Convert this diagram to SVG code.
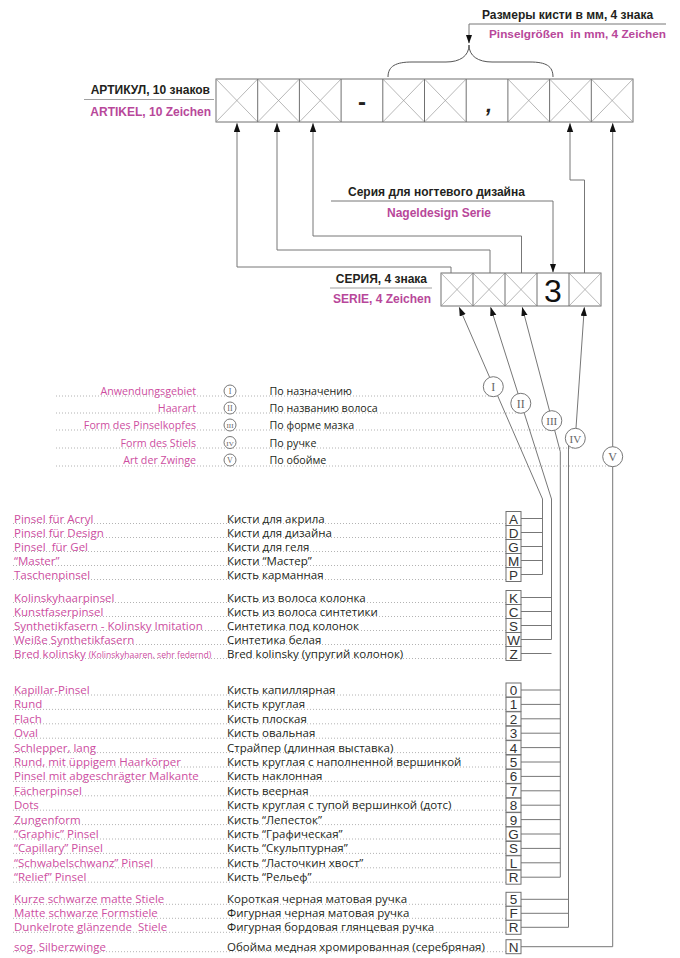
<svg xmlns="http://www.w3.org/2000/svg" width="680" height="958" viewBox="0 0 680 958">
<defs>
<style>
text{white-space:pre}
.hd{font-family:"Liberation Sans",Arial,sans-serif;font-weight:bold;font-size:12px;fill:#231f20}
.hm{font-family:"Liberation Sans",Arial,sans-serif;font-weight:bold;font-size:12px;fill:#b8479a}
.de{font-family:"Open Sans",Roboto,"Liberation Sans",sans-serif;font-size:11.5px;fill:#cd4e9f}
.ru{font-family:"Open Sans",Roboto,"Liberation Sans",sans-serif;font-size:11.5px;fill:#231f20}
.lg{font-size:10.7px}
.sm{font-size:8.6px}
.rn{font-family:"Liberation Serif","Times New Roman",serif;fill:#666;text-anchor:middle}
.dot{stroke:#a0a0a0;stroke-width:0.8;stroke-dasharray:1 2;fill:none}
.cn{stroke:#777;stroke-width:1;fill:none}
.box{fill:#fff;stroke:#707070;stroke-width:1}
.x{stroke:#9a9a9a;stroke-width:0.7;fill:none}
.bl{font-family:"Liberation Sans",Arial,sans-serif;font-size:13.5px;fill:#333;text-anchor:middle}
.circ{fill:#fff;stroke:#777;stroke-width:1}
.sep{stroke:#888;stroke-width:0.8}
</style>
<marker id="ah" markerUnits="userSpaceOnUse" markerWidth="9" markerHeight="7" refX="8.5" refY="3.2" orient="auto" viewBox="0 0 9 7">
<path d="M0,0 L9,3.2 L0,6.4 Z" fill="#111"/>
</marker>
</defs>

<!-- top labels -->
<g id="label-size">
<text class="hd" x="482" y="18.5">Размеры кисти в мм, 4 знака</text>
<text class="hm" x="489" y="38" style="font-size:11.8px">Pinselgrößen  in mm, 4 Zeichen</text>
<path d="M388,77 C388,66 396,62 412,62 L446,62 C460,62 469,56 469,45 C469,56 478,62 492,62 L530,62 C546,62 553,66 553,77" fill="none" stroke="#555" stroke-width="1"/>
</g>

<g id="label-article">
<text class="hd" x="210" y="94" text-anchor="end">АРТИКУЛ, 10 знаков</text>
<line class="sep" x1="84" y1="99.5" x2="214" y2="99.5"/>
<text class="hm" x="211" y="116" text-anchor="end">ARTIKEL, 10 Zeichen</text>
</g>

<g id="article-box">
<rect class="box" x="216" y="79" width="417" height="43"/>
<path class="x" d="M216,79L257.7,122M257.7,79L216,122 M257.7,79L299.4,122M299.4,79L257.7,122 M299.4,79L341.1,122M341.1,79L299.4,122 M382.8,79L424.5,122M424.5,79L382.8,122 M424.5,79L466.2,122M466.2,79L424.5,122 M507.9,79L549.6,122M549.6,79L507.9,122 M549.6,79L591.3,122M591.3,79L549.6,122 M591.3,79L633,122M633,79L591.3,122"/>
<path d="M257.7,79V122M299.4,79V122M341.1,79V122M382.8,79V122M424.5,79V122M466.2,79V122M507.9,79V122M549.6,79V122M591.3,79V122" stroke="#707070" stroke-width="1"/>
<text class="hd" x="362" y="110" text-anchor="middle" style="font-size:24px">-</text>
<text class="hd" x="489" y="112" text-anchor="middle" style="font-size:22px;font-style:italic">,</text>
</g>

<g id="label-nail">
<text class="hd" x="348" y="196">Серия для ногтевого дизайна</text>
<text class="hm" x="387" y="217">Nageldesign Serie</text>
</g>

<g id="label-series">
<text class="hd" x="427" y="282.5" text-anchor="end">СЕРИЯ, 4 знака</text>
<line class="sep" x1="330" y1="288" x2="432" y2="288"/>
<text class="hm" x="431" y="302.5" text-anchor="end">SERIE, 4 Zeichen</text>
</g>

<g id="series-box">
<rect class="box" x="441" y="273" width="160" height="33"/>
<path class="x" d="M441,273L473,306M473,273L441,306 M473,273L505,306M505,273L473,306 M505,273L537,306M537,273L505,306 M569,273L601,306M601,273L569,306"/>
<path d="M473,273V306M505,273V306M537,273V306M569,273V306" stroke="#707070" stroke-width="1"/>
<text x="553" y="301.5" text-anchor="middle" style="font-family:'Liberation Sans',Arial,sans-serif;font-size:32px;fill:#111">3</text>
</g>

<!-- connectors -->
<g id="connectors">
<path class="cn" d="M666,24 H469 V43" marker-end="url(#ah)"/>
<path class="cn" d="M451,273 V267 H237 V123.5" marker-end="url(#ah)"/>
<path class="cn" d="M490,273 V250 H277 V123.5" marker-end="url(#ah)"/>
<path class="cn" d="M521.5,273 V236 H313 V123.5" marker-end="url(#ah)"/>
<path class="cn" d="M584.5,273 V180 H570 V123.5" marker-end="url(#ah)"/>
<path class="cn" d="M331,201 H553 V272" marker-end="url(#ah)"/>
<path class="cn" d="M521,946.7 H612.7 V123.5" marker-end="url(#ah)"/>
<path class="cn" d="M542.5,574.5 V499 L459.3,307.5" marker-end="url(#ah)"/>
<path class="cn" d="M551.5,639.5 V499 L490.7,307.5" marker-end="url(#ah)"/>
<path class="cn" d="M560.3,877.2 V451.7 L522.3,307.5" marker-end="url(#ah)"/>
<path class="cn" d="M568.5,927.3 V445 L575.3,438.3 L584.3,307.5" marker-end="url(#ah)"/>
<path class="cn" d="M521,518.5H542.5M521,532.5H542.5M521,546.5H542.5M521,560.5H542.5M521,574.5H542.5"/>
<path class="cn" d="M521,597.5H551.5M521,611.5H551.5M521,625.5H551.5M521,639.5H551.5M521,653.5H551.5"/>
<path class="cn" d="M521,690H560.3M521,704.4H560.3M521,718.8H560.3M521,733.2H560.3M521,747.6H560.3M521,762H560.3M521,776.4H560.3M521,790.8H560.3M521,805.2H560.3M521,819.6H560.3M521,834H560.3M521,848.4H560.3M521,862.8H560.3M521,877.2H560.3"/>
<path class="cn" d="M521,899.3H568.5M521,913.3H568.5M521,927.3H568.5"/>
</g>

<!-- legend -->
<g id="legend-1">
<path class="dot" d="M56,396H493"/>
<text class="de lg" x="196" y="395" text-anchor="end">Anwendungsgebiet</text>
<circle class="circ" cx="230" cy="391" r="6"/><text class="rn" x="230" y="394" style="font-size:8px">I</text>
<text class="ru lg" x="269.5" y="395">По назначению</text>
</g>
<g id="legend-2">
<path class="dot" d="M56,413H520"/>
<text class="de lg" x="196" y="412" text-anchor="end">Haarart</text>
<circle class="circ" cx="230" cy="408" r="6"/><text class="rn" x="230" y="411" style="font-size:8px">II</text>
<text class="ru lg" x="269.5" y="412">По названию волоса</text>
</g>
<g id="legend-3">
<path class="dot" d="M56,430H551"/>
<text class="de lg" x="196" y="429" text-anchor="end">Form des Pinselkopfes</text>
<circle class="circ" cx="230" cy="425" r="6"/><text class="rn" x="230" y="428" style="font-size:7px">III</text>
<text class="ru lg" x="269.5" y="429">По форме мазка</text>
</g>
<g id="legend-4">
<path class="dot" d="M56,448H575"/>
<text class="de lg" x="196" y="446.5" text-anchor="end">Form des Stiels</text>
<circle class="circ" cx="230" cy="442.5" r="6"/><text class="rn" x="230" y="445.5" style="font-size:7px">IV</text>
<text class="ru lg" x="269.5" y="446.5">По ручке</text>
</g>
<g id="legend-5">
<path class="dot" d="M56,466H612"/>
<text class="de lg" x="196" y="464" text-anchor="end">Art der Zwinge</text>
<circle class="circ" cx="230" cy="460" r="6"/><text class="rn" x="230" y="463" style="font-size:8px">V</text>
<text class="ru lg" x="269.5" y="464">По обойме</text>
</g>

<!-- big roman circles -->
<g id="circle-I"><circle class="circ" cx="493.3" cy="386.7" r="10"/><text class="rn" x="493.3" y="391" style="font-size:12px">I</text></g>
<g id="circle-II"><circle class="circ" cx="520.8" cy="403.3" r="10"/><text class="rn" x="520.8" y="407.6" style="font-size:12px">II</text></g>
<g id="circle-III"><circle class="circ" cx="551.8" cy="420.7" r="10"/><text class="rn" x="551.8" y="425" style="font-size:11px">III</text></g>
<g id="circle-IV"><circle class="circ" cx="575.3" cy="438.3" r="10"/><text class="rn" x="575.3" y="442.6" style="font-size:11px">IV</text></g>
<g id="circle-V"><circle class="circ" cx="612.7" cy="456.7" r="10"/><text class="rn" x="612.7" y="461" style="font-size:12px">V</text></g>

<!-- list rows -->
<g id="row-A"><path class="dot" d="M13,523.5H506"/><text class="de" x="14" y="522.5">Pinsel für Acryl</text><text class="ru" x="227" y="522.5">Кисти для акрила</text><rect class="box" x="506" y="511.5" width="15" height="14"/><text class="bl" x="513.5" y="523.5">A</text></g>
<g id="row-D"><path class="dot" d="M13,537.5H506"/><text class="de" x="14" y="536.5">Pinsel für Design</text><text class="ru" x="227" y="536.5">Кисти для дизайна</text><rect class="box" x="506" y="525.5" width="15" height="14"/><text class="bl" x="513.5" y="537.5">D</text></g>
<g id="row-G1"><path class="dot" d="M13,551.5H506"/><text class="de" x="14" y="550.5">Pinsel  für Gel</text><text class="ru" x="227" y="550.5">Кисти для геля</text><rect class="box" x="506" y="539.5" width="15" height="14"/><text class="bl" x="513.5" y="551.5">G</text></g>
<g id="row-M"><path class="dot" d="M13,565.5H506"/><text class="de" x="14" y="564.5">“Master”</text><text class="ru" x="227" y="564.5">Кисти “Мастер”</text><rect class="box" x="506" y="553.5" width="15" height="14"/><text class="bl" x="513.5" y="565.5">M</text></g>
<g id="row-P"><path class="dot" d="M13,579.5H506"/><text class="de" x="14" y="578.5">Taschenpinsel</text><text class="ru" x="227" y="578.5">Кисть карманная</text><rect class="box" x="506" y="567.5" width="15" height="14"/><text class="bl" x="513.5" y="579.5">P</text></g>

<g id="row-K"><path class="dot" d="M13,602.5H506"/><text class="de" x="14" y="601.5">Kolinskyhaarpinsel</text><text class="ru" x="227" y="601.5">Кисть из волоса колонка</text><rect class="box" x="506" y="590.5" width="15" height="14"/><text class="bl" x="513.5" y="602.5">K</text></g>
<g id="row-C"><path class="dot" d="M13,616.5H506"/><text class="de" x="14" y="615.5">Kunstfaserpinsel</text><text class="ru" x="227" y="615.5">Кисть из волоса синтетики</text><rect class="box" x="506" y="604.5" width="15" height="14"/><text class="bl" x="513.5" y="616.5">C</text></g>
<g id="row-S1"><path class="dot" d="M13,630.5H506"/><text class="de" x="14" y="629.5">Synthetikfasern - Kolinsky Imitation</text><text class="ru" x="227" y="629.5">Синтетика под колонок</text><rect class="box" x="506" y="618.5" width="15" height="14"/><text class="bl" x="513.5" y="630.5">S</text></g>
<g id="row-W"><path class="dot" d="M13,644.5H506"/><text class="de" x="14" y="643.5">Weiße Synthetikfasern</text><text class="ru" x="227" y="643.5">Синтетика белая</text><rect class="box" x="506" y="632.5" width="15" height="14"/><text class="bl" x="513.5" y="644.5">W</text></g>
<g id="row-Z"><path class="dot" d="M13,658.5H506"/><text class="de" x="14" y="657.5">Bred kolinsky <tspan class="sm">(Kolinskyhaaren, sehr federnd)</tspan></text><text class="ru" x="227" y="657.5">Bred kolinsky (упругий колонок)</text><rect class="box" x="506" y="646.5" width="15" height="14"/><text class="bl" x="513.5" y="658.5">Z</text></g>

<g id="row-0"><path class="dot" d="M13,695H506"/><text class="de" x="14" y="694">Kapillar-Pinsel</text><text class="ru" x="227" y="694">Кисть капиллярная</text><rect class="box" x="506" y="683" width="15" height="14"/><text class="bl" x="513.5" y="695">0</text></g>
<g id="row-1"><path class="dot" d="M13,709.4H506"/><text class="de" x="14" y="708.4">Rund</text><text class="ru" x="227" y="708.4">Кисть круглая</text><rect class="box" x="506" y="697.4" width="15" height="14"/><text class="bl" x="513.5" y="709.4">1</text></g>
<g id="row-2"><path class="dot" d="M13,723.8H506"/><text class="de" x="14" y="722.8">Flach</text><text class="ru" x="227" y="722.8">Кисть плоская</text><rect class="box" x="506" y="711.8" width="15" height="14"/><text class="bl" x="513.5" y="723.8">2</text></g>
<g id="row-3"><path class="dot" d="M13,738.2H506"/><text class="de" x="14" y="737.2">Oval</text><text class="ru" x="227" y="737.2">Кисть овальная</text><rect class="box" x="506" y="726.2" width="15" height="14"/><text class="bl" x="513.5" y="738.2">3</text></g>
<g id="row-4"><path class="dot" d="M13,752.6H506"/><text class="de" x="14" y="751.6">Schlepper, lang</text><text class="ru" x="227" y="751.6">Страйпер (длинная выставка)</text><rect class="box" x="506" y="740.6" width="15" height="14"/><text class="bl" x="513.5" y="752.6">4</text></g>
<g id="row-5a"><path class="dot" d="M13,767H506"/><text class="de" x="14" y="766">Rund, mit üppigem Haarkörper</text><text class="ru" x="227" y="766">Кисть круглая с наполненной вершинкой</text><rect class="box" x="506" y="755" width="15" height="14"/><text class="bl" x="513.5" y="767">5</text></g>
<g id="row-6"><path class="dot" d="M13,781.4H506"/><text class="de" x="14" y="780.4">Pinsel mit abgeschrägter Malkante</text><text class="ru" x="227" y="780.4">Кисть наклонная</text><rect class="box" x="506" y="769.4" width="15" height="14"/><text class="bl" x="513.5" y="781.4">6</text></g>
<g id="row-7"><path class="dot" d="M13,795.8H506"/><text class="de" x="14" y="794.8">Fächerpinsel</text><text class="ru" x="227" y="794.8">Кисть веерная</text><rect class="box" x="506" y="783.8" width="15" height="14"/><text class="bl" x="513.5" y="795.8">7</text></g>
<g id="row-8"><path class="dot" d="M13,810.2H506"/><text class="de" x="14" y="809.2">Dots</text><text class="ru" x="227" y="809.2">Кисть круглая с тупой вершинкой (дотс)</text><rect class="box" x="506" y="798.2" width="15" height="14"/><text class="bl" x="513.5" y="810.2">8</text></g>
<g id="row-9"><path class="dot" d="M13,824.6H506"/><text class="de" x="14" y="823.6">Zungenform</text><text class="ru" x="227" y="823.6">Кисть “Лепесток”</text><rect class="box" x="506" y="812.6" width="15" height="14"/><text class="bl" x="513.5" y="824.6">9</text></g>
<g id="row-G2"><path class="dot" d="M13,839H506"/><text class="de" x="14" y="838">“Graphic” Pinsel</text><text class="ru" x="227" y="838">Кисть “Графическая”</text><rect class="box" x="506" y="827" width="15" height="14"/><text class="bl" x="513.5" y="839">G</text></g>
<g id="row-S2"><path class="dot" d="M13,853.4H506"/><text class="de" x="14" y="852.4">“Capillary” Pinsel</text><text class="ru" x="227" y="852.4">Кисть “Скульптурная”</text><rect class="box" x="506" y="841.4" width="15" height="14"/><text class="bl" x="513.5" y="853.4">S</text></g>
<g id="row-L"><path class="dot" d="M13,867.8H506"/><text class="de" x="14" y="866.8">“Schwabelschwanz” Pinsel</text><text class="ru" x="227" y="866.8">Кисть “Ласточкин хвост”</text><rect class="box" x="506" y="855.8" width="15" height="14"/><text class="bl" x="513.5" y="867.8">L</text></g>
<g id="row-R1"><path class="dot" d="M13,882.2H506"/><text class="de" x="14" y="881.2">“Relief” Pinsel</text><text class="ru" x="227" y="881.2">Кисть “Рельеф”</text><rect class="box" x="506" y="870.2" width="15" height="14"/><text class="bl" x="513.5" y="882.2">R</text></g>

<g id="row-5b"><path class="dot" d="M13,904.3H506"/><text class="de" x="14" y="903.3">Kurze schwarze matte Stiele</text><text class="ru" x="227" y="903.3">Короткая черная матовая ручка</text><rect class="box" x="506" y="892.3" width="15" height="14"/><text class="bl" x="513.5" y="904.3">5</text></g>
<g id="row-F"><path class="dot" d="M13,918.3H506"/><text class="de" x="14" y="917.3">Matte schwarze Formstiele</text><text class="ru" x="227" y="917.3">Фигурная черная матовая ручка</text><rect class="box" x="506" y="906.3" width="15" height="14"/><text class="bl" x="513.5" y="918.3">F</text></g>
<g id="row-R2"><path class="dot" d="M13,932.3H506"/><text class="de" x="14" y="931.3">Dunkelrote glänzende  Stiele</text><text class="ru" x="227" y="931.3">Фигурная бордовая глянцевая ручка</text><rect class="box" x="506" y="920.3" width="15" height="14"/><text class="bl" x="513.5" y="932.3">R</text></g>

<g id="row-N"><path class="dot" d="M13,951.7H506"/><text class="de" x="14" y="950.7">sog. Silberzwinge</text><text class="ru" x="227" y="950.7">Обойма медная хромированная (серебряная)</text><rect class="box" x="506" y="939.7" width="15" height="14"/><text class="bl" x="513.5" y="951.7">N</text></g>
</svg>
